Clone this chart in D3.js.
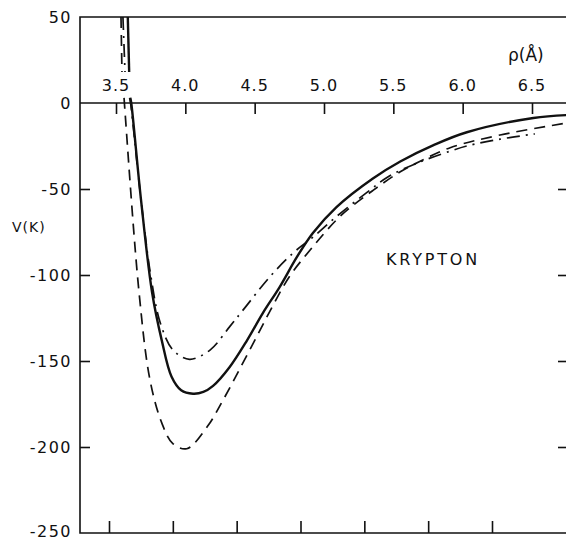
<!DOCTYPE html>
<html>
<head>
<meta charset="UTF-8">
<script src="https://cdnjs.cloudflare.com/ajax/libs/d3/7.8.5/d3.min.js"></script>
<style>
  body { margin: 0; background: #fff; }
  text { font-family: "DejaVu Sans", sans-serif; fill: #111; }
</style>
</head>
<body>
<script>
// radial distance (Angstrom) and potential V (K); null marks the gap in the wall
var solidRho = [3.585, 3.595, null, 3.603, 3.61, 3.68, 3.76, 3.83, 3.90, 3.97, 4.055, 4.13, 4.20, 4.32, 4.445, 4.56, 4.68, 4.805, 4.92, 5.09, 5.35, 5.55, 5.79, 6.03, 6.51, 6.76];
var solidV   = [50, 18, null, 3, 0, -56, -110, -138, -159, -167, -169, -168, -164.5, -153.5, -138, -122, -107, -89.5, -75.6, -60.5, -44, -34, -24.5, -17, -8.7, -7];

var dashRho = [3.536, 3.543, null, 3.558, 3.565, 3.666, 3.745, 3.83, 3.91, 4.01, 4.16, 4.27, 4.39, 4.52, 4.63, 4.75, 4.90, 5.115, 5.35, 5.55, 5.69, 5.91, 6.27, 6.76];
var dashV   = [50, 18, null, 3, -5, -110, -161, -186, -198, -201, -188, -173, -155, -135, -118, -101, -85.5, -66, -51, -40, -34, -26, -18.6, -11.5];

var dotRho = [3.55, 3.565, null, 3.598, 3.605, 3.68, 3.75, 3.82, 3.91, 4.03, 4.18, 4.32, 4.42, 4.61, 4.78, 4.92, 5.09, 5.31, 5.46, 5.67, 5.91, 6.03, 6.27, 6.52];
var dotV   = [50, 18, null, 3, 0, -56, -100, -128, -143.5, -149, -143.5, -130, -120, -101, -87, -78, -66, -52, -43, -35, -28, -25, -21, -18];

var xTicks = [3.5, 4.0, 4.5, 5.0, 5.5, 6.0, 6.5];
var yTicks = [50, 0, -50, -100, -150, -200, -250];

var width = 566, height = 540;
var pLeft = 80, pRight = 570, pTop = 17, pBottom = 533;

var svg = d3.select("body").append("svg")
    .attr("width", width)
    .attr("height", height);

var x = d3.scaleLinear().domain([3.5, 6.5]).range([116, 532]);
// the scanned bottom edge has its ticks a little closer together
var xBottom = d3.scaleLinear().domain([3.5, 6.5]).range([109, 492]);
var y = d3.scaleLinear().domain([-250, 50]).range([pBottom, pTop]);

// frame
svg.append("path")
    .attr("d", "M" + pRight + "," + pTop + "H" + pLeft + "V" + pBottom + "H" + pRight)
    .attr("fill", "none").attr("stroke", "#111").attr("stroke-width", 1.6);

// zero line with ticks hanging below, labels above
var zeroAxis = d3.axisBottom(x).tickValues(xTicks).tickSize(11).tickFormat("");
var gz = svg.append("g").attr("transform", "translate(0," + y(0) + ")").call(zeroAxis);
gz.select(".domain").attr("d", "M" + pLeft + ",0H" + pRight);
gz.selectAll("path, line").attr("stroke", "#111").attr("stroke-width", 1.6);

svg.selectAll(".xlab").data(xTicks).enter().append("text")
    .attr("class", "xlab")
    .attr("x", function (d) { return x(d); })
    .attr("y", y(0) - 12)
    .attr("text-anchor", "middle")
    .attr("font-size", 16)
    .attr("letter-spacing", 1)
    .text(function (d) { return d.toFixed(1); });

svg.append("text")
    .attr("x", 508).attr("y", 61)
    .attr("font-size", 17)
    .text("ρ(Å)");

// bottom ticks
var gb = svg.append("g").attr("transform", "translate(0," + pBottom + ")")
    .call(d3.axisTop(xBottom).tickValues(xTicks).tickSize(12).tickFormat(""));
gb.select(".domain").remove();
gb.selectAll("line").attr("stroke", "#111").attr("stroke-width", 1.6);

var inner = yTicks.filter(function (d) { return d < 0 && d > -250; });

// left axis ticks
var gl = svg.append("g").attr("transform", "translate(" + pLeft + ",0)")
    .call(d3.axisRight(y).tickValues(inner).tickSize(10).tickFormat(""));
gl.select(".domain").remove();
gl.selectAll("line").attr("stroke", "#111").attr("stroke-width", 1.6);

svg.selectAll(".ylab").data(yTicks).enter().append("text")
    .attr("class", "ylab")
    .attr("x", pLeft - 8)
    .attr("y", function (d) { return Math.min(y(d), 531); })
    .attr("dy", "0.36em")
    .attr("text-anchor", "end")
    .attr("font-size", 16)
    .attr("letter-spacing", 1.5)
    .text(function (d) { return d; });

// right axis ticks
var gr = svg.append("g").attr("transform", "translate(" + pRight + ",0)")
    .call(d3.axisLeft(y).tickValues(inner).tickSize(12).tickFormat(""));
gr.select(".domain").remove();
gr.selectAll("line").attr("stroke", "#111").attr("stroke-width", 1.6);

svg.append("text")
    .attr("x", 12).attr("y", 232)
    .attr("font-size", 14)
    .attr("letter-spacing", 1)
    .text("V(K)");

svg.append("text")
    .attr("x", 386).attr("y", 265)
    .attr("font-size", 16)
    .attr("letter-spacing", 2.8)
    .text("KRYPTON");

// curves
function drawCurve(r, v, w, dash) {
    // split at null so each piece is smoothed on its own
    var pieces = [[]];
    r.forEach(function (d, i) {
        if (d === null) pieces.push([]); else pieces[pieces.length - 1].push([d, v[i]]);
    });
    var line = d3.line()
        .x(function (d) { return x(d[0]); })
        .y(function (d) { return y(d[1]); })
        .curve(d3.curveCatmullRom.alpha(0.5));
    pieces.forEach(function (pc) {
        svg.append("path")
            .attr("d", line(pc))
            .attr("fill", "none")
            .attr("stroke", "#111")
            .attr("stroke-width", w)
            .attr("stroke-dasharray", dash);
    });
}

drawCurve(dashRho, dashV, 1.7, "11,7");
drawCurve(dotRho, dotV, 1.7, "13,6,2,6");
drawCurve(solidRho, solidV, 2.4, null);
</script>
</body>
</html>
